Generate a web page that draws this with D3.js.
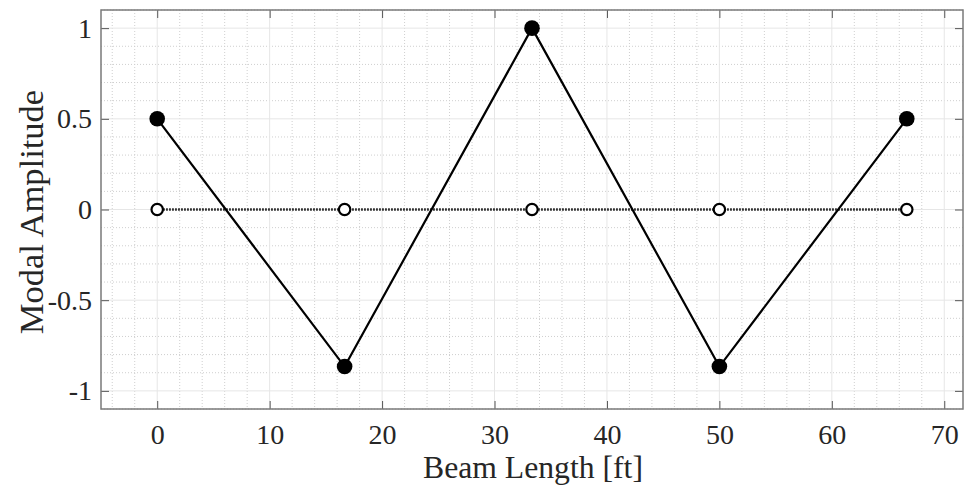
<!DOCTYPE html>
<html>
<head>
<meta charset="utf-8">
<script src="https://cdn.jsdelivr.net/npm/d3@7"></script>
<style>
  html, body { margin: 0; padding: 0; background: #fff; }
  svg text { font-family: "Liberation Serif", "Times New Roman", serif; fill: #262626; }
</style>
</head>
<body>
<svg id="chart" width="964" height="489"></svg>
<script>
// Node positions along the beam [ft] and modal amplitudes
const nodePositions = [0, 16.667, 33.333, 50, 66.667];
const modeAmplitudes = [0.5, -0.866, 1, -0.866, 0.5];
const restAmplitudes = [0, 0, 0, 0, 0];

const xTicks = [0, 10, 20, 30, 40, 50, 60, 70];
const yTicks = [-1, -0.5, 0, 0.5, 1];
const yTickLabels = ["-1", "-0.5", "0", "0.5", "1"];
const xLabel = "Beam Length [ft]";
const yLabel = "Modal Amplitude";

const W = 964, H = 489;
const m = { left: 101, top: 10, right: 1, bottom: 80 };
const pw = W - m.left - m.right, ph = H - m.top - m.bottom;

const svg = d3.select("#chart");
const g = svg.append("g").attr("transform", `translate(${m.left},${m.top})`);

const x = d3.scaleLinear().domain([-5, 71.667]).range([0, pw]);
const y = d3.scaleLinear().domain([-1.1, 1.1]).range([ph, 0]);

// minor grid (dotted)
const xMinor = d3.range(-4, 72, 2).filter(v => v % 10 !== 0);
const yMinor = d3.range(-11, 12).map(v => v / 10).filter(v => Math.abs(v * 2 - Math.round(v * 2)) > 1e-6);
g.append("g").selectAll("line").data(xMinor).join("line")
  .attr("x1", d => x(d)).attr("x2", d => x(d)).attr("y1", 0).attr("y2", ph)
  .attr("stroke", "#cfcfcf").attr("stroke-width", 1).attr("stroke-dasharray", "1,2");
g.append("g").selectAll("line").data(yMinor).join("line")
  .attr("y1", d => y(d)).attr("y2", d => y(d)).attr("x1", 0).attr("x2", pw)
  .attr("stroke", "#cfcfcf").attr("stroke-width", 1).attr("stroke-dasharray", "1,2");

// major grid
g.append("g").selectAll("line").data(xTicks).join("line")
  .attr("x1", d => x(d)).attr("x2", d => x(d)).attr("y1", 0).attr("y2", ph)
  .attr("stroke", "#e6e6e6").attr("stroke-width", 1);
g.append("g").selectAll("line").data(yTicks).join("line")
  .attr("y1", d => y(d)).attr("y2", d => y(d)).attr("x1", 0).attr("x2", pw)
  .attr("stroke", "#e6e6e6").attr("stroke-width", 1);

// axes with inward ticks on all four sides
const tickLen = 8;
const axisColor = "#7a7a7a";
const fontSize = 28;

const xb = g.append("g").attr("transform", `translate(0,${ph})`)
  .call(d3.axisBottom(x).tickValues(xTicks).tickSize(-tickLen).tickPadding(15).tickFormat(d3.format("d")));
const xt = g.append("g")
  .call(d3.axisTop(x).tickValues(xTicks).tickSize(-tickLen).tickFormat(""));
const yl = g.append("g")
  .call(d3.axisLeft(y).tickValues(yTicks).tickSize(-tickLen).tickPadding(9)
    .tickFormat((d, i) => yTickLabels[i]));
const yr = g.append("g").attr("transform", `translate(${pw},0)`)
  .call(d3.axisRight(y).tickValues(yTicks).tickSize(-tickLen).tickFormat(""));

[xb, xt, yl, yr].forEach(a => {
  a.select(".domain").remove();
  a.selectAll(".tick line").attr("stroke", "#555").attr("stroke-width", 1);
  a.selectAll(".tick text").style("font-family", '"Liberation Serif", serif')
    .style("font-size", fontSize + "px").attr("fill", "#262626");
});

// box
g.append("rect").attr("x", 0).attr("y", 0).attr("width", pw).attr("height", ph)
  .attr("fill", "none").attr("stroke", axisColor).attr("stroke-width", 1.5);

// undeformed line (dotted) with open markers
const restPts = nodePositions.map((p, i) => [p, restAmplitudes[i]]);
const modePts = nodePositions.map((p, i) => [p, modeAmplitudes[i]]);
const line = d3.line().x(d => x(d[0])).y(d => y(d[1]));

g.append("path").datum(restPts).attr("d", line)
  .attr("fill", "none").attr("stroke", "#000").attr("stroke-width", 2.5)
  .attr("stroke-dasharray", "1.5,1.5");
g.append("g").selectAll("circle").data(restPts).join("circle")
  .attr("cx", d => x(d[0])).attr("cy", d => y(d[1])).attr("r", 5.7)
  .attr("fill", "#fff").attr("stroke", "#000").attr("stroke-width", 2.2);

// mode shape
g.append("path").datum(modePts).attr("d", line)
  .attr("fill", "none").attr("stroke", "#000").attr("stroke-width", 2.2);
g.append("g").selectAll("circle").data(modePts).join("circle")
  .attr("cx", d => x(d[0])).attr("cy", d => y(d[1])).attr("r", 7.8)
  .attr("fill", "#000");

// axis labels
svg.append("text").attr("x", 533).attr("y", 478)
  .attr("text-anchor", "middle").style("font-size", "31.7px").text(xLabel);
svg.append("text").attr("transform", `translate(43,212) rotate(-90)`)
  .attr("text-anchor", "middle").style("font-size", "34.5px").text(yLabel);
</script>
</body>
</html>
